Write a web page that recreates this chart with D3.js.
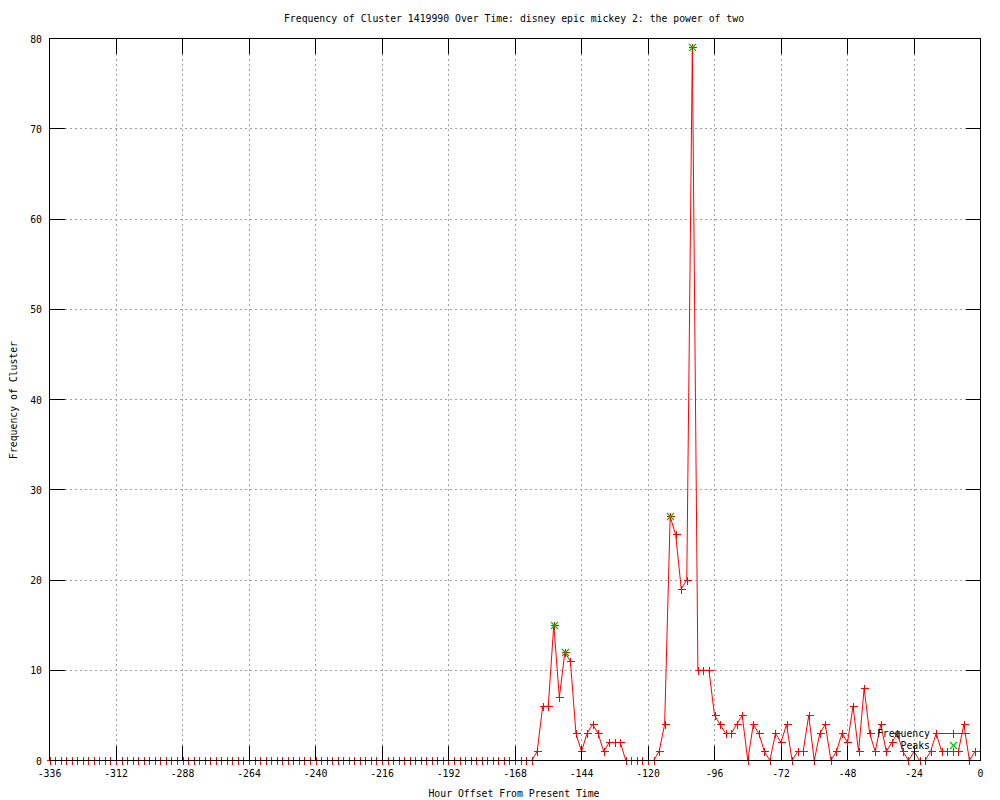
<!DOCTYPE html>
<html>
<head>
<meta charset="utf-8">
<script src="https://cdn.jsdelivr.net/npm/d3@7/dist/d3.min.js"></script>
<style>
  body { margin: 0; background: #fff; }
  text { font-family: "DejaVu Sans Mono", monospace; font-size: 9.8px; fill: #000; }
</style>
</head>
<body>
<div id="chart"></div>
<script>
// hour offsets, one sample every 2 hours
const hourOffsets = d3.range(-336, 0, 2);
const frequency = [
  0,0,0,0,0,0,0,0,0,0, 0,0,0,0,0,0,0,0,0,0,
  0,0,0,0,0,0,0,0,0,0, 0,0,0,0,0,0,0,0,0,0,
  0,0,0,0,0,0,0,0,0,0, 0,0,0,0,0,0,0,0,0,0,
  0,0,0,0,0,0,0,0,0,0, 0,0,0,0,0,0,0,0,0,0,
  0,0,0,0,0,0,0,0,
  1,6,6,15,7,12,11,3,1,3,4,3,1,2,2,2,
  0,0,0,0,0,0,
  1,4,27,25,19,20,79,10,10,10,5,4,3,3,4,5,0,4,3,1,
  0,3,2,4,0,1,1,5,0,3,4,0,1,3,2,6,1,8,3,1,
  4,1,2,3,1,0,1,0,0,1,3,1,1,1,1,4,0,1
];
const peakHours = [-154, -150, -112, -104];
const peakValues = [15, 12, 27, 79];
const xTicks = [-336, -312, -288, -264, -240, -216, -192, -168, -144, -120, -96, -72, -48, -24, 0];
const yTicks = [0, 10, 20, 30, 40, 50, 60, 70, 80];

const width = 1000, height = 800;
const plot = { left: 49, right: 980, top: 38, bottom: 760 };
const tickLen = 15;
const red = "#ff0000", green = "#00c000";

const svg = d3.select("#chart").append("svg")
  .attr("width", width).attr("height", height)
  .attr("viewBox", `0 0 ${width} ${height}`);

const x = d3.scaleLinear().domain([-336, 0]).range([plot.left + 0.5, plot.right + 0.5]);
const y = d3.scaleLinear().domain([0, 80]).range([plot.bottom + 0.5, plot.top + 0.5]);

/* dotted grid */
const grid = svg.append("g").attr("stroke", "#a0a0a0").attr("stroke-dasharray", "2,3")
  .attr("shape-rendering", "crispEdges");
grid.selectAll("line.gx").data(xTicks.slice(1, -1)).enter().append("line")
  .attr("x1", d => x(d)).attr("x2", d => x(d))
  .attr("y1", y(80)).attr("y2", y(0));
grid.selectAll("line.gy").data(yTicks.slice(1, -1)).enter().append("line")
  .attr("y1", d => y(d)).attr("y2", d => y(d))
  .attr("x1", x(-336)).attr("x2", x(0));

/* frequency line + markers */
const series = hourOffsets.map((h, i) => ({ h: h, v: frequency[i] }));
svg.append("path").datum(series)
  .attr("fill", "none").attr("stroke", red).attr("stroke-width", 1)
  .attr("d", d3.line().x(d => x(d.h)).y(d => y(d.v)));

const plusPath = (cx, cy, r) => `M${cx - r},${cy}H${cx + r}M${cx},${cy - r}V${cy + r}`;
const crossPath = (cx, cy, r) => `M${cx - r},${cy - r}L${cx + r},${cy + r}M${cx - r},${cy + r}L${cx + r},${cy - r}`;

svg.append("path")
  .attr("fill", "none").attr("stroke", red).attr("stroke-width", 1)
  .attr("shape-rendering", "crispEdges")
  .attr("d", series.map(d => plusPath(Math.round(x(d.h)) + 0.5, Math.round(y(d.v) - 0.5) + 0.5, 4)).join(""));

/* peaks */
svg.append("path")
  .attr("fill", "none").attr("stroke", green).attr("stroke-width", 1.2)
  .attr("d", peakHours.map((h, i) => crossPath(Math.round(x(h)) + 0.5, Math.round(y(peakValues[i]) - 0.5) + 0.5, 3.5)).join(""));

/* border */
svg.append("rect")
  .attr("x", plot.left + 0.5).attr("y", plot.top + 0.5)
  .attr("width", plot.right - plot.left).attr("height", plot.bottom - plot.top)
  .attr("fill", "none").attr("stroke", "#000").attr("shape-rendering", "crispEdges");

/* ticks (inward, mirrored) */
const ticks = svg.append("g").attr("stroke", "#000").attr("shape-rendering", "crispEdges");
xTicks.forEach(t => {
  ticks.append("line").attr("x1", x(t)).attr("x2", x(t)).attr("y1", y(0)).attr("y2", y(0) - tickLen);
  ticks.append("line").attr("x1", x(t)).attr("x2", x(t)).attr("y1", y(80)).attr("y2", y(80) + tickLen);
});
yTicks.forEach(t => {
  ticks.append("line").attr("y1", y(t)).attr("y2", y(t)).attr("x1", x(-336)).attr("x2", x(-336) + tickLen);
  ticks.append("line").attr("y1", y(t)).attr("y2", y(t)).attr("x1", x(0)).attr("x2", x(0) - tickLen);
});

/* tick labels */
svg.selectAll("text.xt").data(xTicks).enter().append("text")
  .attr("x", d => x(d)).attr("y", plot.bottom + 17)
  .attr("text-anchor", "middle").text(d => d);
svg.selectAll("text.yt").data(yTicks).enter().append("text")
  .attr("x", plot.left - 7).attr("y", d => y(d) + 4)
  .attr("text-anchor", "end").text(d => d);

/* titles */
svg.append("text").attr("x", 514).attr("y", 22).attr("text-anchor", "middle")
  .text("Frequency of Cluster 1419990 Over Time: disney epic mickey 2: the power of two");
svg.append("text").attr("x", 514).attr("y", 797).attr("text-anchor", "middle")
  .text("Hour Offset From Present Time");
svg.append("text").attr("transform", "translate(17,400) rotate(-90)").attr("text-anchor", "middle")
  .text("Frequency of Cluster");

/* legend */
const legend = svg.append("g");
legend.append("text").attr("x", 930).attr("y", 737).attr("text-anchor", "end").text("Frequency");
legend.append("line").attr("x1", 937).attr("x2", 970).attr("y1", 733.5).attr("y2", 733.5)
  .attr("stroke", red).attr("shape-rendering", "crispEdges");
legend.append("path").attr("fill", "none").attr("stroke", red).attr("shape-rendering", "crispEdges")
  .attr("d", plusPath(953.5, 733.5, 4));
legend.append("text").attr("x", 930).attr("y", 749).attr("text-anchor", "end").text("Peaks");
legend.append("path").attr("fill", "none").attr("stroke", green).attr("stroke-width", 1.2)
  .attr("d", crossPath(953.5, 745.5, 3.5));
</script>
</body>
</html>
